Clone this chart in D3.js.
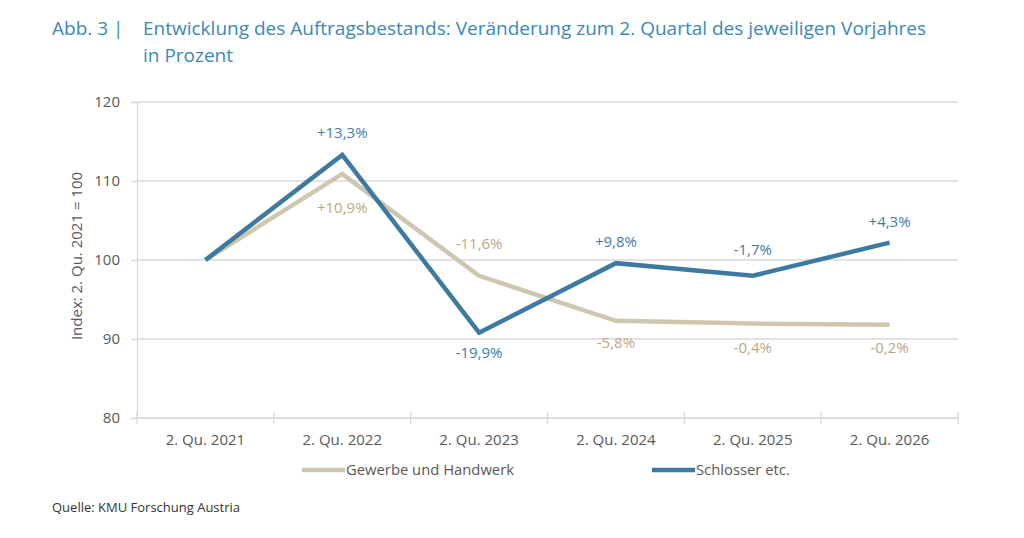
<!DOCTYPE html>
<html lang="de">
<head>
    <meta charset="UTF-8">
    <title>Entwicklung des Auftragsbestands</title>
    <style>
        body, html {
            margin: 0;
            padding: 0;
            width: 100%;
            height: 100%;
            overflow: hidden;
            background: #fff;
            font-family: 'Open Sans', 'Noto Sans', sans-serif;
        }
        svg text { font-family: 'Open Sans', 'Noto Sans', sans-serif; }
    </style>
</head>
<body>
<svg id="chart" width="1024" height="538"></svg>

<script src="https://d3js.org/d3.v7.min.js"></script>
<script>
    // data (index, 2. Qu. 2021 = 100)
    const categories = ["2. Qu. 2021", "2. Qu. 2022", "2. Qu. 2023", "2. Qu. 2024", "2. Qu. 2025", "2. Qu. 2026"];
    const seriesNames = ["Gewerbe und Handwerk", "Schlosser etc."];
    const gewerbeValues = [100, 110.9, 98.0, 92.3, 91.95, 91.8];
    const schlosserValues = [100, 113.3, 90.8, 99.6, 98.0, 102.2];
    const gewerbeLabels = [null, "+10,9%", "-11,6%", "-5,8%", "-0,4%", "-0,2%"];
    const schlosserLabels = [null, "+13,3%", "-19,9%", "+9,8%", "-1,7%", "+4,3%"];
    const yTicks = [80, 90, 100, 110, 120];

    const svg = d3.select("#chart");
    const margin = {left: 137, right: 66, top: 102, bottom: 120};
    const width = 1024, height = 538;

    const x = d3.scaleBand().domain(categories).range([margin.left, width - margin.right]);
    const y = d3.scaleLinear().domain([80, 120]).range([height - margin.bottom, margin.top]);
    const cx = c => x(c) + x.bandwidth() / 2;

    const blue = "#3E7AA0", tan = "#D0C5AE";
    const blueText = "#3D7CAB", tanText = "#BFA57E";
    const gray = "#595959", gridColor = "#d9d9d9";

    // title
    const title = svg.append("g").attr("fill", "#3C88B8").style("font-size", "19px");
    title.append("text").attr("x", 52).attr("y", 35).text("Abb. 3 |");
    title.append("text").attr("x", 143).attr("y", 35)
        .text("Entwicklung des Auftragsbestands: Veränderung zum 2. Quartal des jeweiligen Vorjahres");
    title.append("text").attr("x", 143).attr("y", 62).text("in Prozent");

    // gridlines
    svg.append("g")
        .selectAll("line")
        .data(yTicks)
        .enter().append("line")
        .attr("x1", margin.left).attr("x2", width - margin.right)
        .attr("y1", d => y(d)).attr("y2", d => y(d))
        .attr("stroke", gridColor).attr("stroke-width", 1.3);

    // y axis
    const yAxis = svg.append("g")
        .attr("transform", `translate(${margin.left},0)`)
        .call(d3.axisLeft(y).tickValues(yTicks).tickSize(6).tickPadding(11));
    yAxis.select(".domain").attr("stroke", gridColor).attr("stroke-width", 1.3);
    yAxis.selectAll(".tick line").attr("stroke", gridColor).attr("stroke-width", 1.3);
    yAxis.selectAll(".tick text").attr("fill", gray).style("font-size", "15px")
        .style("font-family", "'Open Sans', sans-serif");

    // x axis with ticks between categories
    const xAxis = svg.append("g")
        .attr("transform", `translate(0,${y(80)})`);
    xAxis.append("line")
        .attr("x1", margin.left).attr("x2", width - margin.right)
        .attr("stroke", gridColor).attr("stroke-width", 1.3);
    const bounds = categories.map(c => x(c)).concat([x(categories[categories.length - 1]) + x.bandwidth()]);
    xAxis.selectAll(".xt")
        .data(bounds)
        .enter().append("line")
        .attr("x1", d => d).attr("x2", d => d)
        .attr("y1", -6).attr("y2", 6)
        .attr("stroke", gridColor).attr("stroke-width", 1.3);
    xAxis.selectAll(".xl")
        .data(categories)
        .enter().append("text")
        .attr("x", d => cx(d))
        .attr("y", 27)
        .attr("text-anchor", "middle")
        .attr("fill", gray)
        .style("font-size", "15px")
        .text(d => d);

    // y axis title
    svg.append("text")
        .attr("transform", `translate(82,${y(100) - 4}) rotate(-90)`)
        .attr("text-anchor", "middle")
        .attr("fill", gray)
        .style("font-size", "15px")
        .text("Index: 2. Qu. 2021 = 100");

    const line = d3.line()
        .x((d, i) => cx(categories[i]))
        .y(d => y(d));

    svg.append("path").datum(gewerbeValues)
        .attr("d", line).attr("fill", "none")
        .attr("stroke", tan).attr("stroke-width", 4.5).attr("stroke-linejoin", "miter");
    svg.append("path").datum(schlosserValues)
        .attr("d", line).attr("fill", "none")
        .attr("stroke", blue).attr("stroke-width", 4.5).attr("stroke-linejoin", "miter");

    // data label offsets (pixel shift of label centre relative to point)
    const gewerbeShift = [0, 34, -32, 22, 24, 23];
    const schlosserShift = [0, -22, 20, -21, -26, -21];

    function addLabels(values, labels, shifts, color) {
        const items = values
            .map((v, i) => ({v: v, label: labels[i], cat: categories[i], shift: shifts[i]}))
            .filter(d => d.label !== null);
        svg.append("g")
            .selectAll("text")
            .data(items)
            .enter().append("text")
            .attr("x", d => cx(d.cat))
            .attr("y", d => y(d.v) + d.shift)
            .attr("dy", "0.35em")
            .attr("text-anchor", "middle")
            .attr("fill", color)
            .style("font-size", "15px")
            .text(d => d.label);
    }
    addLabels(gewerbeValues, gewerbeLabels, gewerbeShift, tanText);
    addLabels(schlosserValues, schlosserLabels, schlosserShift, blueText);

    // legend
    const legendX = [302, 652];
    const legendColors = [tan, blue];
    const legend = svg.append("g").attr("transform", "translate(0,470)");
    seriesNames.forEach((name, i) => {
        legend.append("line")
            .attr("x1", legendX[i]).attr("x2", legendX[i] + 43)
            .attr("stroke", legendColors[i]).attr("stroke-width", 4.5);
        legend.append("text")
            .attr("x", legendX[i] + 44).attr("dy", "0.35em")
            .attr("fill", gray).style("font-size", "14.8px")
            .text(name);
    });

    // source
    svg.append("text")
        .attr("x", 52).attr("y", 512)
        .attr("fill", "#333")
        .style("font-size", "13px")
        .text("Quelle: KMU Forschung Austria");
</script>
</body>
</html>
